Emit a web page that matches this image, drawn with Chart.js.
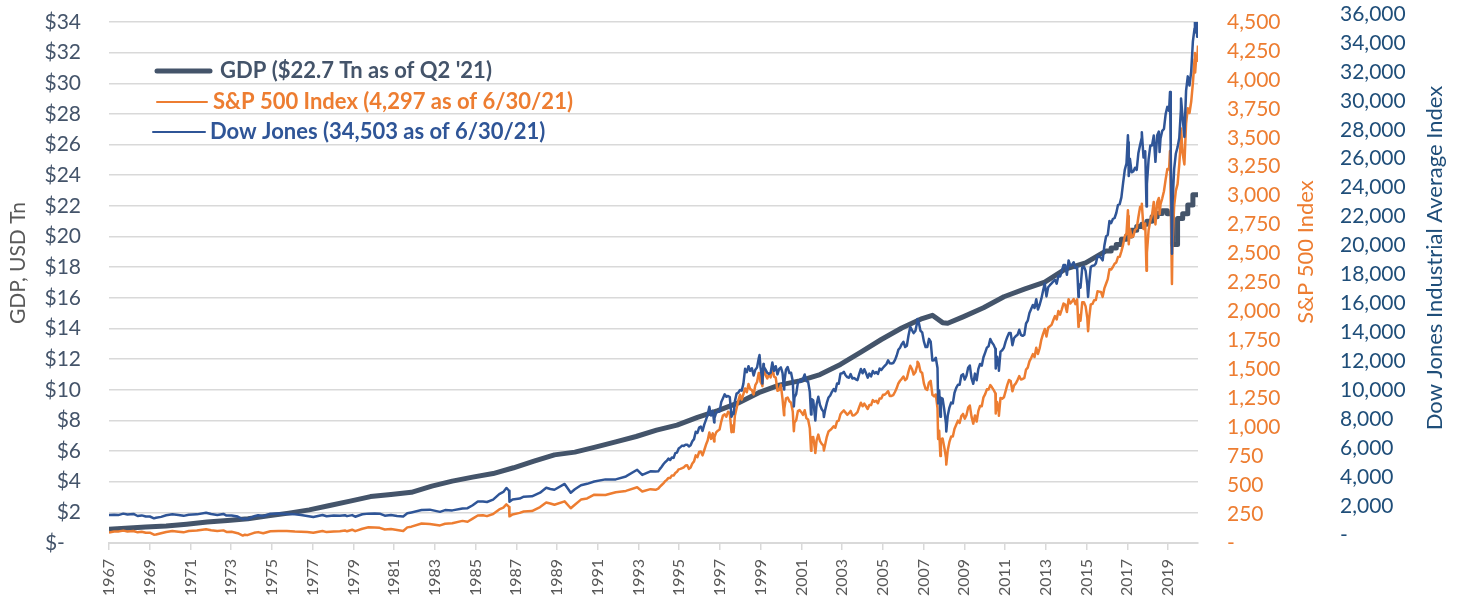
<!DOCTYPE html>
<html>
<head>
<meta charset="utf-8">
<script src="https://cdn.jsdelivr.net/npm/chart.js@4.4.1/dist/chart.umd.min.js"></script>
<style>
  html, body { margin: 0; padding: 0; background: #ffffff; }
  canvas { display: block; }
</style>
</head>
<body>
<canvas id="c" width="1459" height="606"></canvas>
<script>
// ---------------- DATA ----------------
const xTickLabels = ['1967','1969','1971','1973','1975','1977','1979','1981','1983','1985','1987','1989','1991','1993','1995','1997','1999','2001','2003','2005','2007','2009','2011','2013','2015','2017','2019'];

const seriesLabels = ["GDP ($22.7 Tn as of Q2 '21)", 'S&P 500 Index (4,297 as of 6/30/21)', 'Dow Jones (34,503 as of 6/30/21)'];

// GDP, USD trillions (annualized): yearly readings, then quarterly readings
const gdpAnnualYears = [1968.2,1969,1970,1971,1972,1973,1974,1975,1976,1977,1978,1979,1980,1981,1982,1983,1984,1985,1986,1987,1988,1989,1990,1991,1992,1993,1994,1995,1996,1997,1998,1999,2000,2001,2002,2003,2004,2005,2006,2007,2008,2008.5,2009,2009.25,2010,2011,2012,2013,2014,2015,2016];
const gdpAnnualValues = [0.90,0.97,1.04,1.11,1.23,1.37,1.47,1.58,1.77,1.95,2.16,2.45,2.73,3.03,3.17,3.31,3.71,4.04,4.30,4.53,4.91,5.34,5.75,5.93,6.26,6.60,6.95,7.37,7.69,8.20,8.64,9.14,9.81,10.30,10.58,10.99,11.65,12.46,13.28,14.03,14.65,14.86,14.38,14.34,14.76,15.35,16.07,16.57,17.03,17.87,18.28];
const gdpQuarterStarts = [2017.0,2017.25,2017.5,2017.75,2018.0,2018.25,2018.5,2018.75,2019.0,2019.25,2019.5,2019.75,2020.0,2020.25,2020.5,2020.75,2021.0,2021.25];
const gdpQuarterValues = [19.06,19.25,19.48,19.83,20.04,20.41,20.66,20.80,21.00,21.29,21.51,21.69,21.48,19.48,21.17,21.49,22.06,22.72];
const seriesEnd = 2021.5;

// Early market readings 1968-1994 (decimal year)
const earlyDates = [
  1968.2,1968.45,1968.65,1968.9,1969.1,1969.4,1969.6,1969.8,
  1970.0,1970.2,1970.4,1970.5,1970.75,1971.0,1971.3,1971.6,1971.85,
  1972.1,1972.5,1972.95,1973.2,1973.5,1973.8,1973.95,
  1974.2,1974.5,1974.75,1974.85,1974.97,1975.3,1975.5,1975.75,
  1976.1,1976.5,1976.9,1977.3,1977.6,1977.9,
  1978.2,1978.65,1978.85,1979.2,1979.5,1979.75,1979.85,
  1980.1,1980.25,1980.6,1980.9,1981.2,1981.45,1981.7,
  1982.0,1982.3,1982.6,1982.8,1983.0,1983.5,1983.9,
  1984.4,1984.65,1985.0,1985.5,1985.75,
  1986.0,1986.25,1986.5,1986.7,1987.0,1987.3,1987.5,1987.65,1987.78,1987.8,1987.95,
  1988.3,1988.5,1988.9,1989.3,1989.6,1989.8,
  1990.0,1990.5,1990.8,1991.0,1991.3,1991.6,1991.95,
  1992.5,1993.0,1993.5,
  1994.05,1994.3,1994.7,1994.95
];
const earlySpx = [
  90,99,100,107,100,104,92,97,
  88,89,72,73,84,95,104,98,92,
  104,107,118,110,104,109,96,
  97,85,64,72,68,88,94,84,
  101,104,103,99,98,94,
  88,104,94,100,102,108,101,
  115,102,123,136,133,131,117,
  120,112,104,135,141,168,165,
  152,166,170,191,184,
  211,238,240,232,250,290,305,334,312,230,247,
  260,272,276,310,350,341,
  330,360,300,330,375,385,417,
  415,438,450,
  481,445,465,459
];
const earlyDow = [
  890,900,880,980,920,960,820,860,
  790,785,660,700,760,870,940,880,830,
  910,930,1040,950,890,960,850,
  860,780,600,660,600,800,870,800,
  970,990,960,930,880,820,
  750,890,800,850,840,870,810,
  880,770,940,980,990,980,840,
  880,820,790,1000,1060,1220,1250,
  1100,1220,1200,1330,1350,
  1550,1800,1800,1770,1930,2300,2450,2720,2530,1780,1940,
  2000,2130,2150,2400,2730,2650,
  2600,2990,2400,2630,2900,3000,3160,
  3300,3300,3500,
  3950,3600,3850,3830
];

// Month-end readings, Jan 1995 .. Jun 2021
const monthlyStartYear = 1995;
const monthlySpx = [
  470,487,501,515,533,545,562,562,584,582,605,616,
  636,640,646,654,669,671,640,652,687,705,757,741,
  786,791,757,801,848,885,954,899,947,915,955,970,
  980,1049,1102,1112,1091,1134,1121,957,1017,1099,1164,1229,
  1280,1238,1286,1335,1302,1373,1329,1320,1283,1363,1389,1469,
  1394,1366,1499,1452,1421,1455,1431,1518,1437,1429,1315,1320,
  1366,1240,1160,1249,1256,1224,1211,1134,1041,1060,1139,1148,
  1130,1107,1147,1077,1067,990,912,916,815,886,936,880,
  856,841,848,917,964,975,990,1008,996,1051,1058,1112,
  1131,1145,1126,1107,1121,1141,1102,1104,1115,1130,1174,1212,
  1181,1204,1181,1157,1192,1191,1234,1220,1229,1207,1249,1248,
  1280,1281,1295,1311,1270,1270,1277,1304,1336,1378,1401,1418,
  1438,1407,1421,1482,1531,1503,1455,1474,1527,1549,1481,1468,
  1379,1331,1323,1386,1400,1280,1267,1283,1165,969,896,903,
  826,735,798,873,919,919,987,1021,1057,1036,1096,1115,
  1074,1104,1169,1187,1089,1031,1102,1049,1141,1183,1181,1258,
  1286,1327,1326,1364,1345,1321,1292,1219,1131,1253,1247,1258,
  1312,1366,1408,1398,1310,1362,1379,1407,1441,1412,1416,1426,
  1498,1515,1569,1598,1631,1606,1686,1633,1682,1757,1806,1848,
  1783,1859,1872,1884,1924,1960,1931,2003,1972,2018,2068,2059,
  1995,2105,2068,2086,2107,2063,2104,1972,1920,2079,2080,2044,
  1940,1932,2060,2065,2097,2099,2174,2171,2168,2126,2199,2239,
  2279,2364,2363,2384,2412,2423,2470,2472,2519,2575,2648,2674,
  2824,2714,2641,2648,2705,2718,2816,2902,2914,2712,2760,2507,
  2704,2784,2834,2946,2752,2942,2980,2926,2977,3038,3141,3231,
  3226,2954,2585,2912,3044,3100,3271,3500,3363,3270,3622,3756,
  3714,3811,3973,4181,4204,4297
];
const monthlyDow = [
  3844,4011,4158,4321,4465,4556,4709,4611,4789,4756,5075,5117,
  5395,5486,5588,5569,5643,5655,5529,5616,5882,6029,6522,6448,
  6813,6878,6584,7009,7331,7673,8223,7622,7945,7442,7823,7908,
  7907,8546,8800,9063,8900,8952,8883,7539,7843,8592,9117,9181,
  9359,9307,9786,10789,10560,10971,10655,10829,10337,10730,10878,11497,
  10941,10128,10922,10734,10522,10448,10522,11215,10651,10971,10415,10788,
  10887,10495,9879,10735,10912,10502,10523,9950,8848,9075,9852,10022,
  9920,10106,10404,9946,9925,9243,8737,8664,7592,8397,8896,8342,
  8054,7891,7992,8480,8850,8985,9234,9416,9275,9801,9782,10454,
  10488,10584,10358,10226,10188,10435,10140,10174,10080,10027,10428,10783,
  10490,10766,10504,10193,10467,10275,10641,10482,10569,10440,10806,10718,
  10865,10993,11109,11367,11168,11150,11186,11381,11679,12081,12222,12463,
  12622,12269,12354,13063,13628,13409,13212,13358,13896,13930,13372,13265,
  12650,12266,12263,12820,12638,11350,11378,11544,10851,9325,8829,8776,
  8001,7063,7609,8168,8500,8447,9172,9496,9712,9713,10345,10428,
  10067,10325,10857,11009,10137,9774,10466,10015,10788,11118,11006,11578,
  11892,12226,12320,12811,12570,12414,12143,11614,10913,11955,12046,12218,
  12633,12952,13212,13214,12393,12880,13009,13091,13437,13096,13026,13104,
  13861,14054,14579,14840,15116,14910,15500,14810,15130,15546,16086,16577,
  15699,16322,16458,16581,16717,16827,16563,17098,17043,17391,17828,17823,
  17165,18133,17776,17841,18011,17620,17690,16528,16285,17664,17720,17425,
  16466,16517,17685,17774,17787,17930,18432,18401,18308,18142,19124,19763,
  19864,20812,20663,20941,21009,21350,21891,21948,22405,23377,24272,24719,
  26149,25029,24103,24163,24416,24271,25415,25965,26458,25116,25538,23327,
  24999,25916,25929,26593,24815,26600,26864,26403,26917,27046,28051,28538,
  28256,25409,21917,24346,25383,25813,26428,28430,27782,26502,29639,30606,
  29983,30932,32982,33875,34529,34503
];

// Intra-month highs and lows (decimal year)
const swingDates = [1997.82,1998.77,2000.04,2000.18,2000.23,2001.24,2001.72,2002.56,2002.77,2003.19,2007.77,2008.78,2008.89,2009.18,2011.6,2011.755,2015.65,2016.12,2018.07,2018.11,2018.75,2018.98,2019.62,2020.13,2020.225,2020.67,2021.35,2021.36,2021.46];
const swingSpx = [876,959,1465,1355,1527,1103,965,797,777,800,1565,899,752,677,1119,1099,1867,1829,2873,2581,2931,2351,2840,3386,2237,3580,4233,4063,4166];
const swingDow = [7161,7731,11723,9796,11112,9389,8236,7702,7286,7524,14165,8451,7552,6547,10810,10655,15666,15660,26617,23860,26828,21792,25479,29551,18592,29100,34778,33587,33290];

// ---------------- BUILD ----------------
const gdpPoints = gdpAnnualYears.map((t, i) => ({ x: t, y: gdpAnnualValues[i] }));
gdpQuarterStarts.forEach((t, i) => {
  const next = i + 1 < gdpQuarterStarts.length ? gdpQuarterStarts[i + 1] : seriesEnd;
  gdpPoints.push({ x: t, y: gdpQuarterValues[i] });
  gdpPoints.push({ x: next, y: gdpQuarterValues[i] });
});
const monthDate = i => monthlyStartYear + (i + 1) / 12;
const buildMarket = (early, monthly, swings) => [
  ...earlyDates.map((t, i) => ({ x: t, y: early[i] })),
  ...monthly.map((v, i) => ({ x: monthDate(i), y: v })),
  ...swingDates.map((t, i) => ({ x: t, y: swings[i] }))
].sort((a, b) => a.x - b.x);
const spxPoints = buildMarket(earlySpx, monthlySpx, swingSpx);
const dowPoints = buildMarket(earlyDow, monthlyDow, swingDow);

const C_GDP = '#44546A', C_SPX = '#ED7D31', C_DOW = '#2F5597', C_DOWAX = '#1F4E79';
const GRID = '#d9d9d9';
const CLEAR = 'rgba(0,0,0,0)';
const X_MIN = 1968.2, X_MAX = 2021.5, X_TICK_STEP = 1.9935;

Chart.defaults.font.family = 'Lato';

const decorations = {
  id: 'decorations',
  afterDatasetsDraw(chart) {
    const ctx = chart.ctx;
    ctx.save();
    const rows = [
      { x1: 157, x2: 210, y: 71, tx: 220, w: 5, c: C_GDP },
      { x1: 157, x2: 207, y: 102, tx: 213, w: 2, c: C_SPX },
      { x1: 153, x2: 205, y: 132, tx: 210, w: 2, c: C_DOW }
    ];
    rows.forEach((r, i) => {
      ctx.strokeStyle = r.c;
      ctx.lineWidth = r.w;
      ctx.lineCap = 'round';
      ctx.beginPath();
      ctx.moveTo(r.x1, r.y);
      ctx.lineTo(r.x2, r.y);
      ctx.stroke();
      ctx.fillStyle = r.c;
      ctx.font = 'bold 22px Lato';
      ctx.textAlign = 'left';
      ctx.textBaseline = 'middle';
      ctx.fillText(chart.data.datasets[i].label, r.tx, r.y);
    });
    const rot = (txt, x, y, color, size) => {
      ctx.save();
      ctx.translate(x, y);
      ctx.rotate(-Math.PI / 2);
      ctx.fillStyle = color;
      ctx.font = size + 'px Lato';
      ctx.textAlign = 'center';
      ctx.textBaseline = 'middle';
      ctx.fillText(txt, 0, 0);
      ctx.restore();
    };
    rot('GDP, USD Tn', 18, 263, '#595959', 21);
    rot('S&P 500 Index', 1306, 252, C_SPX, 22);
    rot('Dow Jones Industrial Average Index', 1435, 258, C_DOWAX, 22);
    ctx.restore();
  }
};

new Chart(document.getElementById('c'), {
  type: 'line',
  data: {
    datasets: [
      { label: seriesLabels[0], data: gdpPoints, yAxisID: 'y', borderColor: C_GDP, borderWidth: 5, pointRadius: 0, order: 3, borderJoinStyle: 'round' },
      { label: seriesLabels[1], data: spxPoints, yAxisID: 'ySpx', borderColor: C_SPX, borderWidth: 2.5, pointRadius: 0, order: 2, borderJoinStyle: 'round' },
      { label: seriesLabels[2], data: dowPoints, yAxisID: 'yDow', borderColor: C_DOW, borderWidth: 2.5, pointRadius: 0, order: 1, borderJoinStyle: 'round' }
    ]
  },
  options: {
    responsive: false,
    animation: false,
    events: [],
    layout: { padding: { left: 0, right: 0, top: 22, bottom: 0 } },
    plugins: { legend: { display: false }, tooltip: { enabled: false }, title: { display: false } },
    scales: {
      x: {
        type: 'linear', position: 'bottom', min: X_MIN, max: X_MAX,
        afterBuildTicks: s => { s.ticks = xTickLabels.map((_, i) => ({ value: X_MIN + i * X_TICK_STEP })); },
        afterFit: s => { s.height = 63; },
        ticks: { autoSkip: false, minRotation: 90, maxRotation: 90, padding: 9, color: '#595959', font: { size: 16 }, callback: (v, i) => xTickLabels[i] },
        grid: { drawOnChartArea: false, drawTicks: true, tickLength: 7, color: GRID, lineWidth: 1.5 },
        border: { display: true, color: GRID, width: 2 }
      },
      y: {
        type: 'linear', position: 'left', min: 0, max: 34,
        afterFit: s => { s.width = 109; },
        ticks: { stepSize: 2, autoSkip: false, padding: 0, color: C_GDP, font: { size: 21 }, callback: v => v === 0 ? '$-   ' : '$' + v },
        grid: { color: GRID, lineWidth: 1.5, drawTicks: true, tickLength: 28, tickColor: CLEAR },
        border: { display: false }
      },
      ySpx: {
        type: 'linear', position: 'right', min: 0, max: 4500, weight: 0,
        afterFit: s => { s.width = 120; },
        ticks: { stepSize: 250, autoSkip: false, padding: 0, color: C_SPX, font: { size: 21 }, callback: v => v === 0 ? '-' : v.toLocaleString('en-US') },
        grid: { display: true, drawOnChartArea: false, drawTicks: true, tickLength: 29, color: CLEAR, tickColor: CLEAR },
        border: { display: false }
      },
      yDowAxis: {
        type: 'linear', position: 'right', min: 0, max: 36000, weight: 1,
        afterFit: s => { s.width = 141; },
        ticks: { stepSize: 2000, autoSkip: false, padding: 0, labelOffset: -8, color: C_DOWAX, font: { size: 21 }, callback: v => v === 0 ? '-' : v.toLocaleString('en-US') },
        grid: { display: true, drawOnChartArea: false, drawTicks: true, tickLength: 22, color: CLEAR, tickColor: CLEAR },
        border: { display: false }
      },
      yDow: {
        type: 'linear', position: 'right', display: false, min: -1010, max: 34290
      }
    }
  },
  plugins: [decorations]
});
</script>
</body>
</html>
